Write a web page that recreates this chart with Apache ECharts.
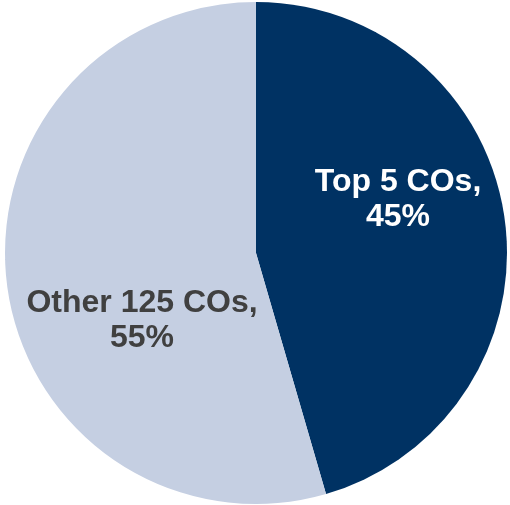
<!DOCTYPE html>
<html>
<head>
<meta charset="utf-8">
<script src="https://cdn.jsdelivr.net/npm/echarts@6/dist/echarts.min.js"></script>
<style>html,body{margin:0;padding:0;background:#fff;}#c{width:510px;height:505px;}</style>
</head>
<body>
<div id="c"></div>
<script>
var categories = ['Top 5 COs', 'Other 125 COs'];
var values = [45.5, 54.5];
var percentLabels = ['45%', '55%'];

var colors = ['#003263', '#c5cfe2'];
var textColors = ['#ffffff', '#404040'];
var labelPos = [[398, 200], [142, 321]];

var chart = echarts.init(document.getElementById('c'), null, {renderer: 'canvas'});
chart.setOption({
  animation: false,
  series: [{
    type: 'pie',
    center: [256, 253],
    radius: [0, 251],
    startAngle: 90,
    clockwise: true,
    silent: true,
    itemStyle: {borderWidth: 0},
    label: {
      show: true,
      position: 'inside',
      fontFamily: 'Liberation Sans, Arial, sans-serif',
      fontWeight: 'bold',
      fontSize: 32,
      lineHeight: 35,
      align: 'center',
      formatter: function (p) { return p.name + ',\n' + percentLabels[p.dataIndex]; }
    },
    labelLayout: function (p) {
      return {x: labelPos[p.dataIndex][0], y: labelPos[p.dataIndex][1], align: 'center', verticalAlign: 'middle'};
    },
    data: categories.map(function (c, i) {
      return {
        name: c,
        value: values[i],
        itemStyle: {color: colors[i]},
        label: {color: textColors[i]}
      };
    })
  }]
});
</script>
</body>
</html>
